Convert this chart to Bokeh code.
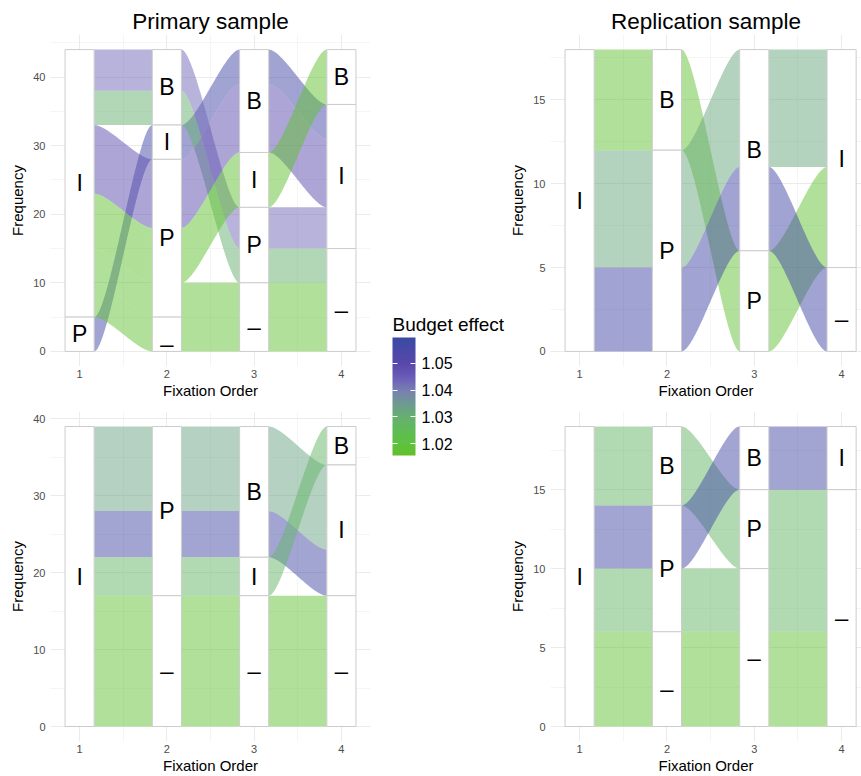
import numpy as np
from bokeh.plotting import figure
from bokeh.layouts import row, column
from bokeh.models import (ColumnDataSource, LinearColorMapper, ColorBar, FixedTicker, Label,
                          Range1d, SingleIntervalTicker, PrintfTickFormatter)
from bokeh.embed import file_html
from bokeh.resources import INLINE
from bokeh.core.properties import value

FONT = "Liberation Sans"

# Stratum levels, top to bottom within every axis ("_" = no fixation)
levels = ["B", "I", "P", "_"]
fixation_order = [1, 2, 3, 4]

# Primary sample, upper panel: fixation path of each alluvium, its size and budget effect
primary_a_paths = [
    ["P", "I", "B", "I"],
    ["I", "B", "P", "I"],
    ["I", "B", "P", "_"],
    ["I", "P", "B", "I"],
    ["I", "P", "I", "B"],
    ["I", "P", "_", "_"],
    ["I", "_", "_", "_"],
]
primary_a_freq = [5, 6, 5, 10, 8, 5, 5]
primary_a_effect = [1.057, 1.043, 1.030, 1.049, 1.017, 1.018, 1.018]

# Replication sample, upper panel
replication_a_paths = [
    ["I", "B", "P", "I"],
    ["I", "P", "B", "I"],
    ["I", "P", "B", "_"],
]
replication_a_freq = [6, 7, 5]
replication_a_effect = [1.018, 1.032, 1.057]

# Primary sample, lower panel
primary_b_paths = [
    ["I", "P", "B", "I"],
    ["I", "P", "B", "I"],
    ["I", "P", "I", "B"],
    ["I", "_", "_", "_"],
]
primary_b_freq = [11, 6, 5, 17]
primary_b_effect = [1.033, 1.056, 1.028, 1.018]

# Replication sample, lower panel
replication_b_paths = [
    ["I", "B", "P", "_"],
    ["I", "P", "B", "I"],
    ["I", "P", "_", "_"],
    ["I", "_", "_", "_"],
]
replication_b_freq = [5, 4, 4, 6]
replication_b_effect = [1.028, 1.056, 1.028, 1.018]

# Colour scale for the budget effect
effect_low, effect_high = 1.0156, 1.0597
scale_stops = [
    (1.0156, "#64c02a"), (1.020, "#5ec240"), (1.025, "#5fbb56"), (1.030, "#66b070"),
    (1.035, "#6f9a92"), (1.040, "#7a7eb2"), (1.045, "#6a5bb8"), (1.050, "#5848ab"),
    (1.0597, "#3b4aa3"),
]
legend_ticks = [1.02, 1.03, 1.04, 1.05]


def build_palette(stops, n=256):
    vals = np.array([s[0] for s in stops])
    rgb = np.array([[int(c[i:i + 2], 16) for i in (1, 3, 5)] for _, c in stops], dtype=float)
    grid = np.linspace(vals[0], vals[-1], n)
    out = []
    for g in grid:
        r, gg, b = (np.interp(g, vals, rgb[:, j]) for j in range(3))
        out.append("#%02x%02x%02x" % (int(round(r)), int(round(gg)), int(round(b))))
    return out


mapper = LinearColorMapper(palette=build_palette(scale_stops), low=effect_low, high=effect_high)

STRATUM_W = 1 / 3
t = np.linspace(0, 1, 60)
curve_x = 3 * (1 - t) ** 2 * t * 0.25 + 3 * (1 - t) * t ** 2 * 0.75 + t ** 3
curve_y = 3 * t ** 2 - 2 * t ** 3


def lode_positions(paths, freq):
    """Stack the lodes of every axis: strata in level order, lodes ordered by the
    strata they visit on the other axes (nearest axis first, zigzagging outward)."""
    n_axes = len(paths[0])
    total = sum(freq)
    rank = {s: i for i, s in enumerate(levels)}
    spans = []
    for k in range(n_axes):
        others = []
        for d in range(1, n_axes):
            for j in (k + d, k - d):
                if 0 <= j < n_axes:
                    others.append(j)
        order = sorted(range(len(paths)),
                       key=lambda a: [rank[paths[a][k]]] + [rank[paths[a][j]] for j in others] + [a])
        top = total
        axis_spans = {}
        for a in order:
            axis_spans[a] = (top - freq[a], top)
            top -= freq[a]
        spans.append(axis_spans)
    return spans


def panel(paths, freq, effect, width, height, left, right, top, bottom, x_end, step, title=None):
    total = sum(freq)
    p = figure(width=width, height=height, output_backend="svg", toolbar_location=None,
               x_range=Range1d(1 - STRATUM_W / 2 - 0.1667, x_end),
               y_range=Range1d(-0.05 * total, 1.05 * total),
               min_border_left=left, min_border_right=right,
               min_border_top=top, min_border_bottom=bottom,
               x_axis_label="Fixation Order", y_axis_label="Frequency")
    p.outline_line_color = None
    p.background_fill_color = "white"
    p.border_fill_color = "white"

    if title:
        p.title.text = title
        p.title.align = "center"
        p.title.text_font = FONT
        p.title.text_font_size = "22.5px"
        p.title.text_font_style = "normal"
        p.title.text_color = "black"
        p.title.standoff = 2

    p.xaxis.ticker = FixedTicker(ticks=fixation_order, minor_ticks=[1.5, 2.5, 3.5])
    p.yaxis.ticker = SingleIntervalTicker(interval=step, num_minor_ticks=2)
    for ax in (p.xaxis, p.yaxis):
        ax.axis_line_color = None
        ax.major_tick_line_color = None
        ax.minor_tick_line_color = None
        ax.major_tick_out = 0
        ax.major_tick_in = 0
        ax.minor_tick_out = 0
        ax.minor_tick_in = 0
        ax.major_label_text_font = FONT
        ax.major_label_text_font_size = "11px"
        ax.major_label_text_color = "#4d4d4d"
        ax.axis_label_text_font = FONT
        ax.axis_label_text_font_size = "15px"
        ax.axis_label_text_font_style = "normal"
        ax.axis_label_text_color = "black"
    p.xaxis.major_label_standoff = 3
    p.xaxis.axis_label_standoff = 1
    p.yaxis.major_label_standoff = 5
    p.yaxis.axis_label_standoff = 4
    for g in (p.xgrid, p.ygrid):
        g.grid_line_color = "#ebebeb"
        g.grid_line_width = 1
        g.minor_grid_line_color = "#ebebeb"
        g.minor_grid_line_width = 0.5

    spans = lode_positions(paths, freq)
    n_axes = len(paths[0])

    # flows between neighbouring axes
    xs, ys, fx = [], [], []
    for k in range(n_axes - 1):
        x0 = fixation_order[k] + STRATUM_W / 2
        x1 = fixation_order[k + 1] - STRATUM_W / 2
        cx = x0 + (x1 - x0) * curve_x
        for a in range(len(paths)):
            lo0, hi0 = spans[k][a]
            lo1, hi1 = spans[k + 1][a]
            top_edge = hi0 + (hi1 - hi0) * curve_y
            bot_edge = lo0 + (lo1 - lo0) * curve_y
            xs.append(np.concatenate([cx, cx[::-1]]).tolist())
            ys.append(np.concatenate([top_edge, bot_edge[::-1]]).tolist())
            fx.append(effect[a])
    flows = ColumnDataSource(dict(xs=xs, ys=ys, effect=fx))
    p.patches("xs", "ys", source=flows, fill_color={"field": "effect", "transform": mapper},
              fill_alpha=0.5, line_color=None)

    # strata boxes with their labels
    sx, sb, st, sl = [], [], [], []
    for k in range(n_axes):
        for s in levels:
            members = [a for a in range(len(paths)) if paths[a][k] == s]
            if not members:
                continue
            sx.append(fixation_order[k])
            sb.append(min(spans[k][a][0] for a in members))
            st.append(max(spans[k][a][1] for a in members))
            sl.append(s)
    strata = ColumnDataSource(dict(
        x=sx, left=[x - STRATUM_W / 2 for x in sx], right=[x + STRATUM_W / 2 for x in sx],
        bottom=sb, top=st, label=sl, mid=[(b + u) / 2 for b, u in zip(sb, st)]))
    p.quad(left="left", right="right", bottom="bottom", top="top", source=strata,
           fill_color="white", line_color="#cccccc", line_width=1)
    p.text(x="x", y="mid", text="label", source=strata, text_align="center",
           text_baseline="middle", text_font=value(FONT), text_font_size="23px",
           text_color="black")
    return p


p1 = panel(primary_a_paths, primary_a_freq, primary_a_effect, 375, 406, 50, 5, 34, 40,
           4.3333, 10, "Primary sample")
p3 = panel(primary_b_paths, primary_b_freq, primary_b_effect, 375, 370, 50, 5, 5, 35,
           4.3333, 10)
p2 = panel(replication_a_paths, replication_a_freq, replication_a_effect, 356, 406, 45, 0, 34, 40,
           4.228, 5, "Replication sample")
p4 = panel(replication_b_paths, replication_b_freq, replication_b_effect, 356, 370, 45, 0, 5, 35,
           4.228, 5)

# middle strip carrying the colour bar; its ranges are in pixels
LEG_W, LEG_H = 130, 776
leg = figure(width=LEG_W, height=LEG_H, output_backend="svg", toolbar_location=None,
             x_range=Range1d(0, LEG_W), y_range=Range1d(0, LEG_H),
             x_axis_type=None, y_axis_type=None, min_border=0)
leg.outline_line_color = None
leg.grid.visible = False
leg.scatter([0], [0], alpha=0)
cb = ColorBar(color_mapper=mapper, ticker=FixedTicker(ticks=legend_ticks),
              formatter=PrintfTickFormatter(format="%.2f"), orientation="vertical",
              width=23, height=118, location=(17, 321), padding=0,
              major_label_text_font=FONT, major_label_text_font_size="16px",
              major_label_text_color="black", label_standoff=6,
              major_tick_line_color="white", major_tick_in=23, major_tick_out=0,
              major_tick_line_dash="5 13", major_tick_line_width=1,
              minor_tick_line_color=None, bar_line_color=None,
              background_fill_alpha=0, border_line_color=None)
leg.add_layout(cb, "center")
leg.add_layout(Label(x=17, y=LEG_H - 324, text="Budget effect", text_font=FONT,
                     text_font_size="19px", text_color="black", text_align="left",
                     text_baseline="middle"))

layout = row(column(p1, p3), leg, column(p2, p4))

open("out.html", "w").write(file_html(layout, INLINE))
